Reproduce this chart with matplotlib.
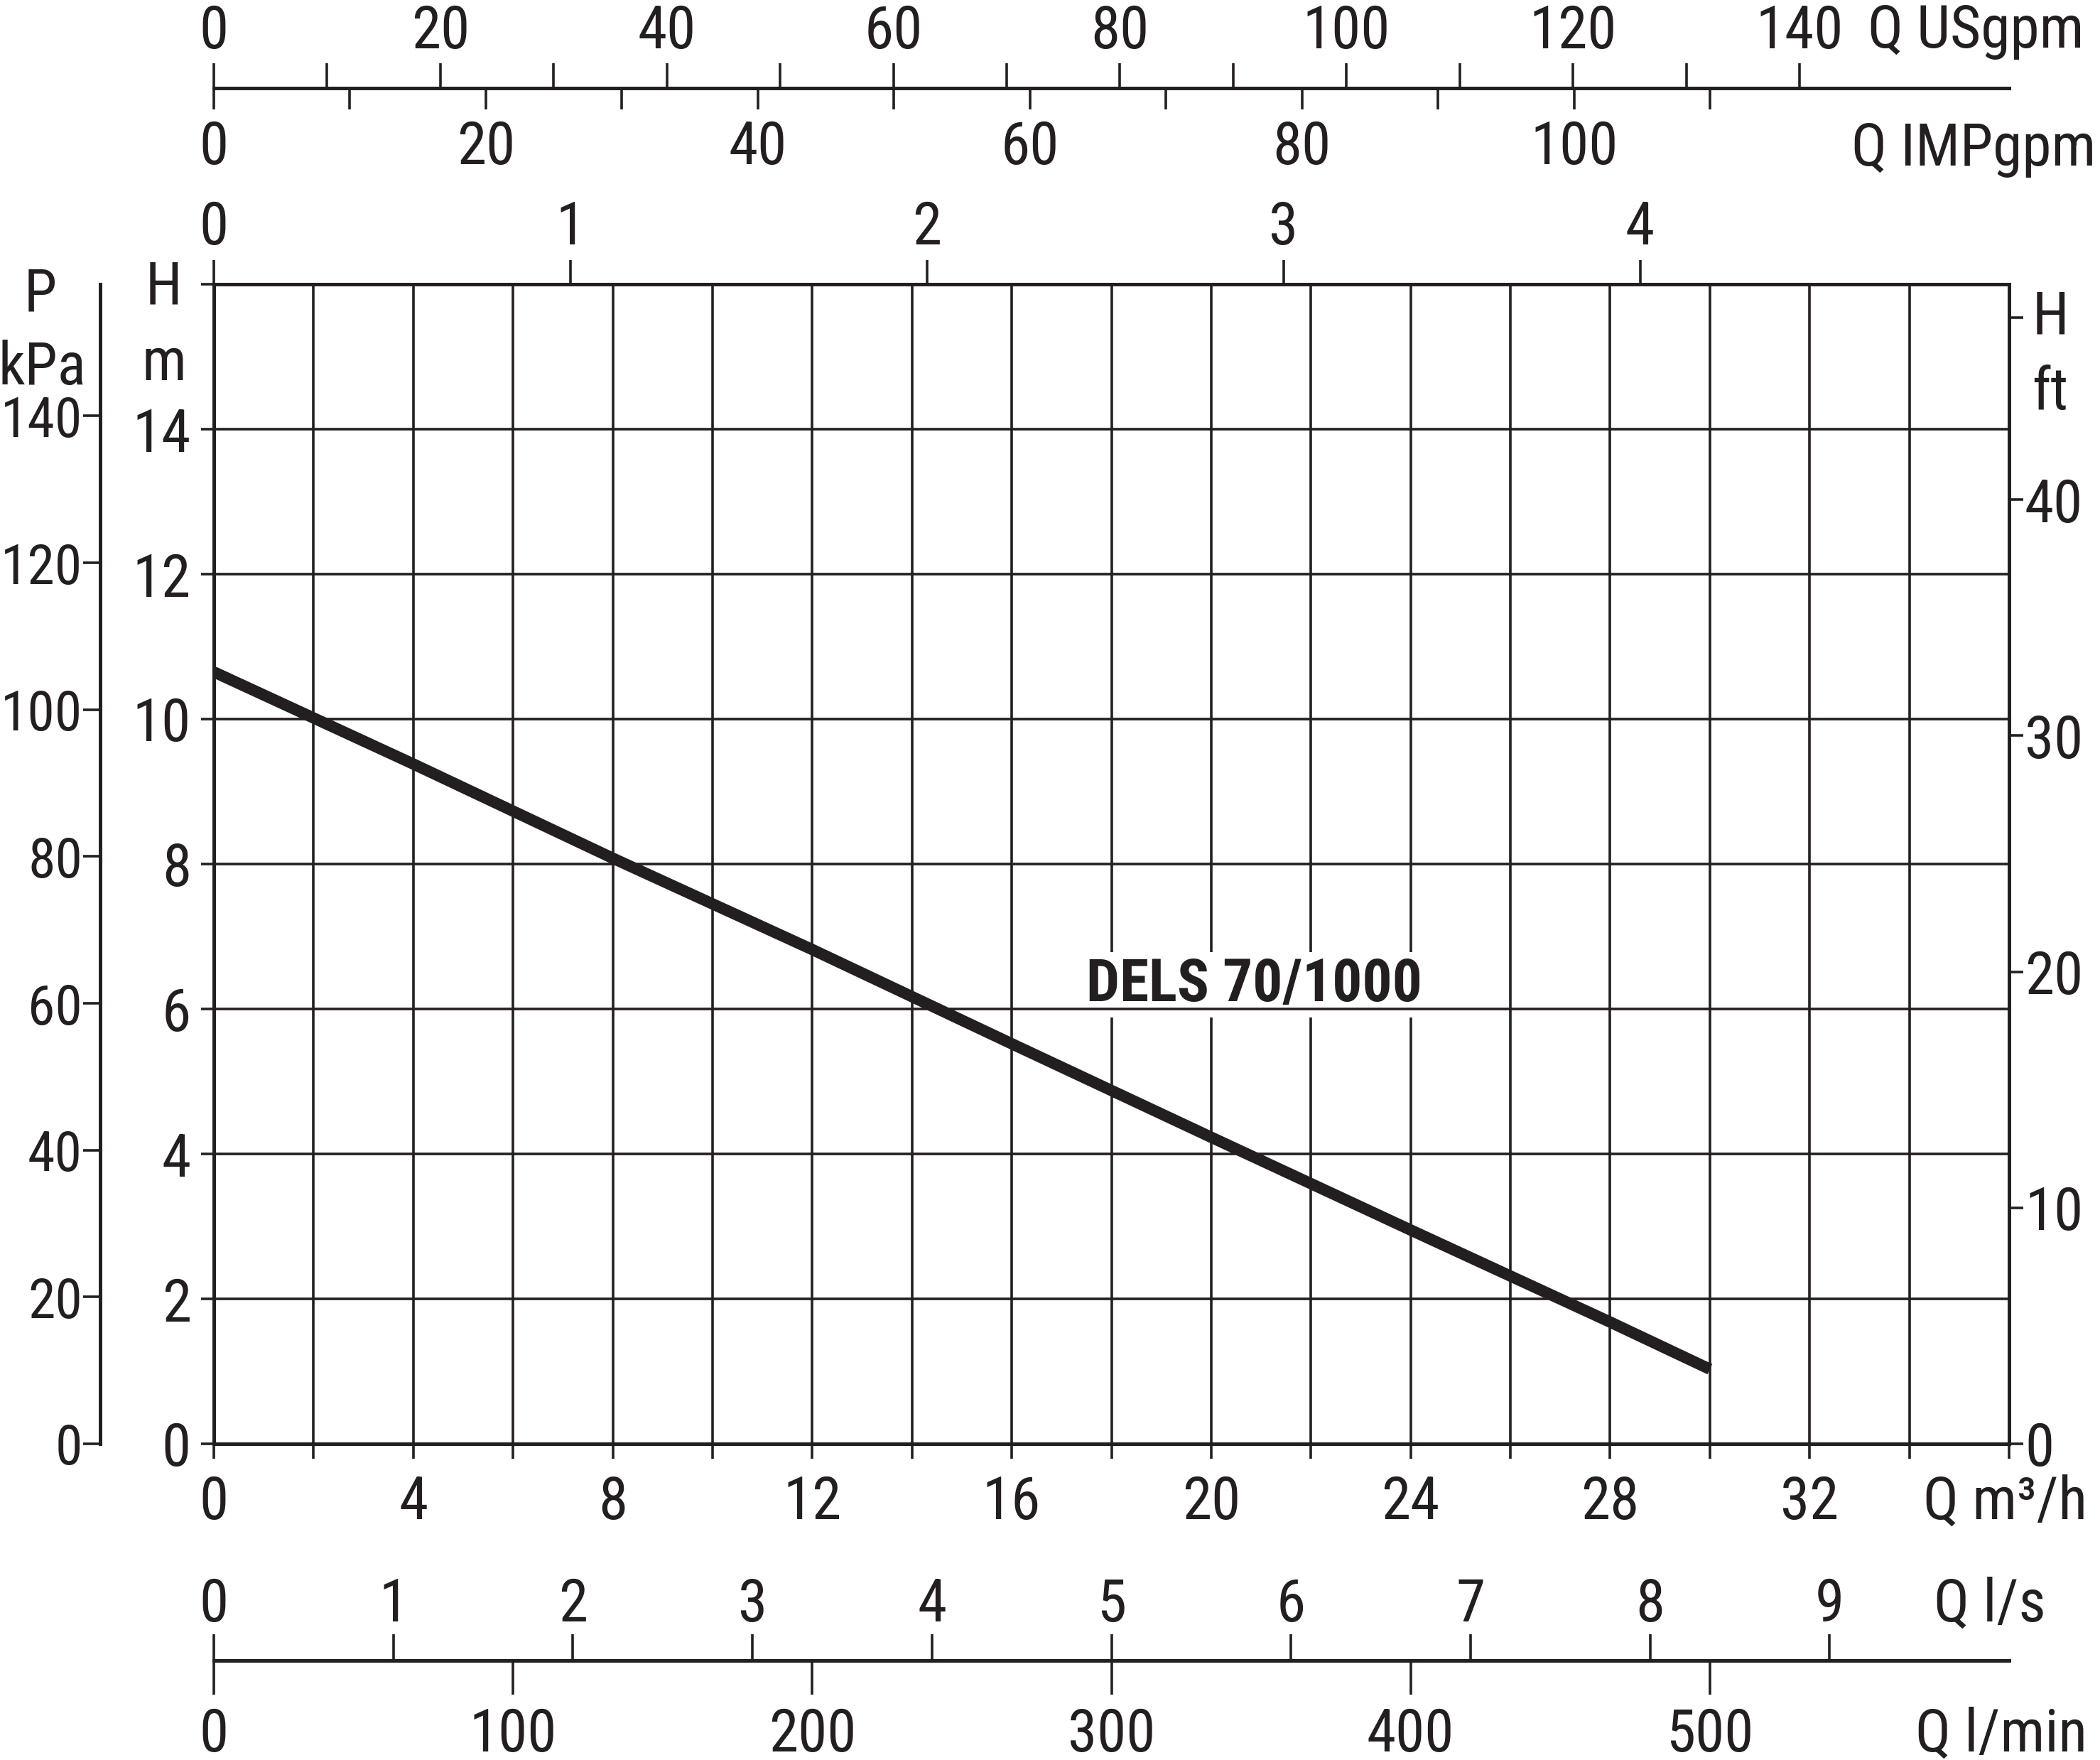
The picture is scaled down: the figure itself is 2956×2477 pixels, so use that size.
import matplotlib
matplotlib.use("Agg")
import matplotlib.pyplot as plt
from matplotlib import font_manager as fm
from matplotlib.ticker import MultipleLocator


def pick_font():
    # the sheet uses a condensed grotesque, take the narrowest one installed
    names = {f.name for f in fm.fontManager.ttflist}
    for n in ['Liberation Sans Narrow', 'Roboto Condensed', 'Noto Sans Condensed',
              'Open Sans Condensed', 'Arial Narrow']:
        if n in names:
            return n, 'normal'
    for f in fm.fontManager.ttflist:
        if f.stretch == 'condensed' and f.name in ('DejaVu Sans', 'Noto Sans',
                                                   'Open Sans', 'Roboto'):
            return f.name, 'condensed'
    return 'Liberation Sans', 'normal'


FAMILY, STRETCH = pick_font()
plt.rcParams['font.family'] = [FAMILY, 'Liberation Sans', 'DejaVu Sans']
plt.rcParams['font.stretch'] = STRETCH

W, H = 2956, 2477
DPI = 200
INK = '#231f20'
PX = 72.0 / DPI      # points per pixel

# pump curve, Q in m3/h against head in m
q_m3h = [0, 4, 8, 12, 16, 20, 24, 28, 30]
head_m = [10.65, 9.38, 8.08, 6.82, 5.52, 4.23, 2.95, 1.68, 1.03]
model = 'DELS 70/1000'

# tick values of every scale
q_major = [0, 4, 8, 12, 16, 20, 24, 28, 32]
h_ticks = [0, 2, 4, 6, 8, 10, 12, 14, 16]
h_labels = ['0', '2', '4', '6', '8', '10', '12', '14', '']
p_ticks = [0, 20, 40, 60, 80, 100, 120, 140]
ft_ticks = [0, 10, 20, 30, 40, 47.7]
ft_labels = ['0', '10', '20', '30', '40', '']
top_ticks = [0, 1, 2, 3, 4]
us_ticks = list(range(0, 150, 10))
imp_ticks = list(range(0, 120, 10))
ls_ticks = list(range(0, 10))
lmin_ticks = [0, 100, 200, 300, 400, 500]

# unit factors (as drawn on the sheet)
M3H_PER_TOP = 7.15
M3H_PER_USGPM = 0.22712
M3H_PER_IMPGPM = 0.27277
M3H_PER_LS = 3.6
M3H_PER_LMIN = 0.06
M_PER_KPA = 0.1013
FT_PER_M = 3.07

FS = 30
LW_AX = 5 * PX
LW_GRID = 3.6 * PX


def fx(x):
    return x / W


def fy(y):
    return 1 - y / H


fig = plt.figure(figsize=(W / DPI, H / DPI), dpi=DPI)
ax = fig.add_axes([fx(301), fy(2032), (2828 - 301) / W, (2032 - 400) / H])
ax.set_xlim(0, 36)
ax.set_ylim(0, 16)

for s in ax.spines.values():
    s.set_linewidth(LW_AX)
    s.set_color(INK)

# grid
for v in range(2, 36, 2):
    ax.axvline(v, color=INK, lw=LW_GRID, zorder=1)
for v in range(2, 16, 2):
    ax.axhline(v, color=INK, lw=LW_GRID, zorder=2.5)

ax.plot(q_m3h, head_m, color=INK, lw=16 * PX, solid_capstyle='butt', zorder=4)
ax.text(20.86, 6.11, model, ha='center', va='baseline', fontsize=30,
        fontweight='bold', color=INK, zorder=2,
        bbox=dict(boxstyle='square,pad=0.08', fc='white', ec='none'))

# main Q m3/h axis (bottom) and H m axis (left)
ax.set_xticks(q_major, [str(v) for v in q_major])
ax.xaxis.set_minor_locator(MultipleLocator(2))
ax.set_yticks(h_ticks, h_labels)
ax.tick_params(axis='x', which='both', direction='out', length=21 * PX,
               width=LW_GRID, pad=22 * PX, labelsize=FS, colors=INK)
ax.tick_params(axis='y', direction='out', length=18 * PX, width=LW_GRID,
               pad=14 * PX, labelsize=FS, colors=INK)


def style(sec, axis, length, pad, lw=LW_AX, size=FS):
    sec.tick_params(axis=axis, direction='out', length=length * PX,
                    width=LW_GRID, pad=pad * PX, labelsize=size, colors=INK)
    for s in sec.spines.values():
        s.set_linewidth(lw)
        s.set_color(INK)


# top scale just above the grid
sec_top = ax.secondary_xaxis('top', functions=(lambda q: q / M3H_PER_TOP,
                                               lambda u: u * M3H_PER_TOP))
sec_top.set_xticks(top_ticks, [str(v) for v in top_ticks])
style(sec_top, 'x', 34, 5)

# H ft on the right
sec_ft = ax.secondary_yaxis('right', functions=(lambda m: m * FT_PER_M,
                                                lambda f: f / FT_PER_M))
sec_ft.set_yticks(ft_ticks, ft_labels)
style(sec_ft, 'y', 20, 2)

# P kPa, a separate spine left of H
p_loc = (141 - 301) / (2828 - 301)
sec_p = ax.secondary_yaxis(p_loc, functions=(lambda m: m / M_PER_KPA,
                                             lambda p: p * M_PER_KPA))
sec_p.set_yticks(p_ticks, [str(v) for v in p_ticks])
style(sec_p, 'y', 24, 1, lw=5 * PX, size=28)

# USgpm / IMPgpm line at the top
top_loc = (2032 - 124) / (2032 - 400)
sec_us = ax.secondary_xaxis(top_loc, functions=(lambda q: q / M3H_PER_USGPM,
                                                lambda g: g * M3H_PER_USGPM))
sec_us.set_xticks(us_ticks, [str(v) if v % 20 == 0 else '' for v in us_ticks])
style(sec_us, 'x', 35, 4)

sec_imp = ax.secondary_xaxis(top_loc, functions=(lambda q: q / M3H_PER_IMPGPM,
                                                 lambda g: g * M3H_PER_IMPGPM))
sec_imp.set_alignment('bottom')
sec_imp.set_xticks(imp_ticks, [str(v) if v % 20 == 0 else '' for v in imp_ticks])
style(sec_imp, 'x', 30, 14)

# l/s and l/min line at the bottom
bot_loc = (2032 - 2337) / (2032 - 400)
sec_ls = ax.secondary_xaxis(bot_loc, functions=(lambda q: q / M3H_PER_LS,
                                                lambda v: v * M3H_PER_LS))
sec_ls.set_alignment('top')
sec_ls.set_xticks(ls_ticks, [str(v) for v in ls_ticks])
style(sec_ls, 'x', 37, 1)

sec_lmin = ax.secondary_xaxis(bot_loc, functions=(lambda q: q / M3H_PER_LMIN,
                                                  lambda v: v * M3H_PER_LMIN))
sec_lmin.set_xticks(lmin_ticks, [str(v) for v in lmin_ticks])
style(sec_lmin, 'x', 48, 17)

# unit captions
captions = [
    ('Q USgpm', 2629, 67, 'left'),
    ('Q IMPgpm', 2950, 233, 'right'),
    ('P', 57, 437, 'center'),
    ('kPa', 59, 541, 'center'),
    ('H', 230, 428, 'center'),
    ('m', 231, 535, 'center'),
    ('H', 2886, 469, 'center'),
    ('ft', 2886, 576, 'center'),
    ('Q m³/h', 2938, 2138, 'right'),
    ('Q l/s', 2722, 2282, 'left'),
    ('Q l/min', 2938, 2465, 'right'),
]
for txt, x, y, ha in captions:
    fig.text(fx(x), fy(y), txt, ha=ha, va='baseline', fontsize=FS, color=INK)

fig.savefig('out.png', dpi=DPI, facecolor='white')
